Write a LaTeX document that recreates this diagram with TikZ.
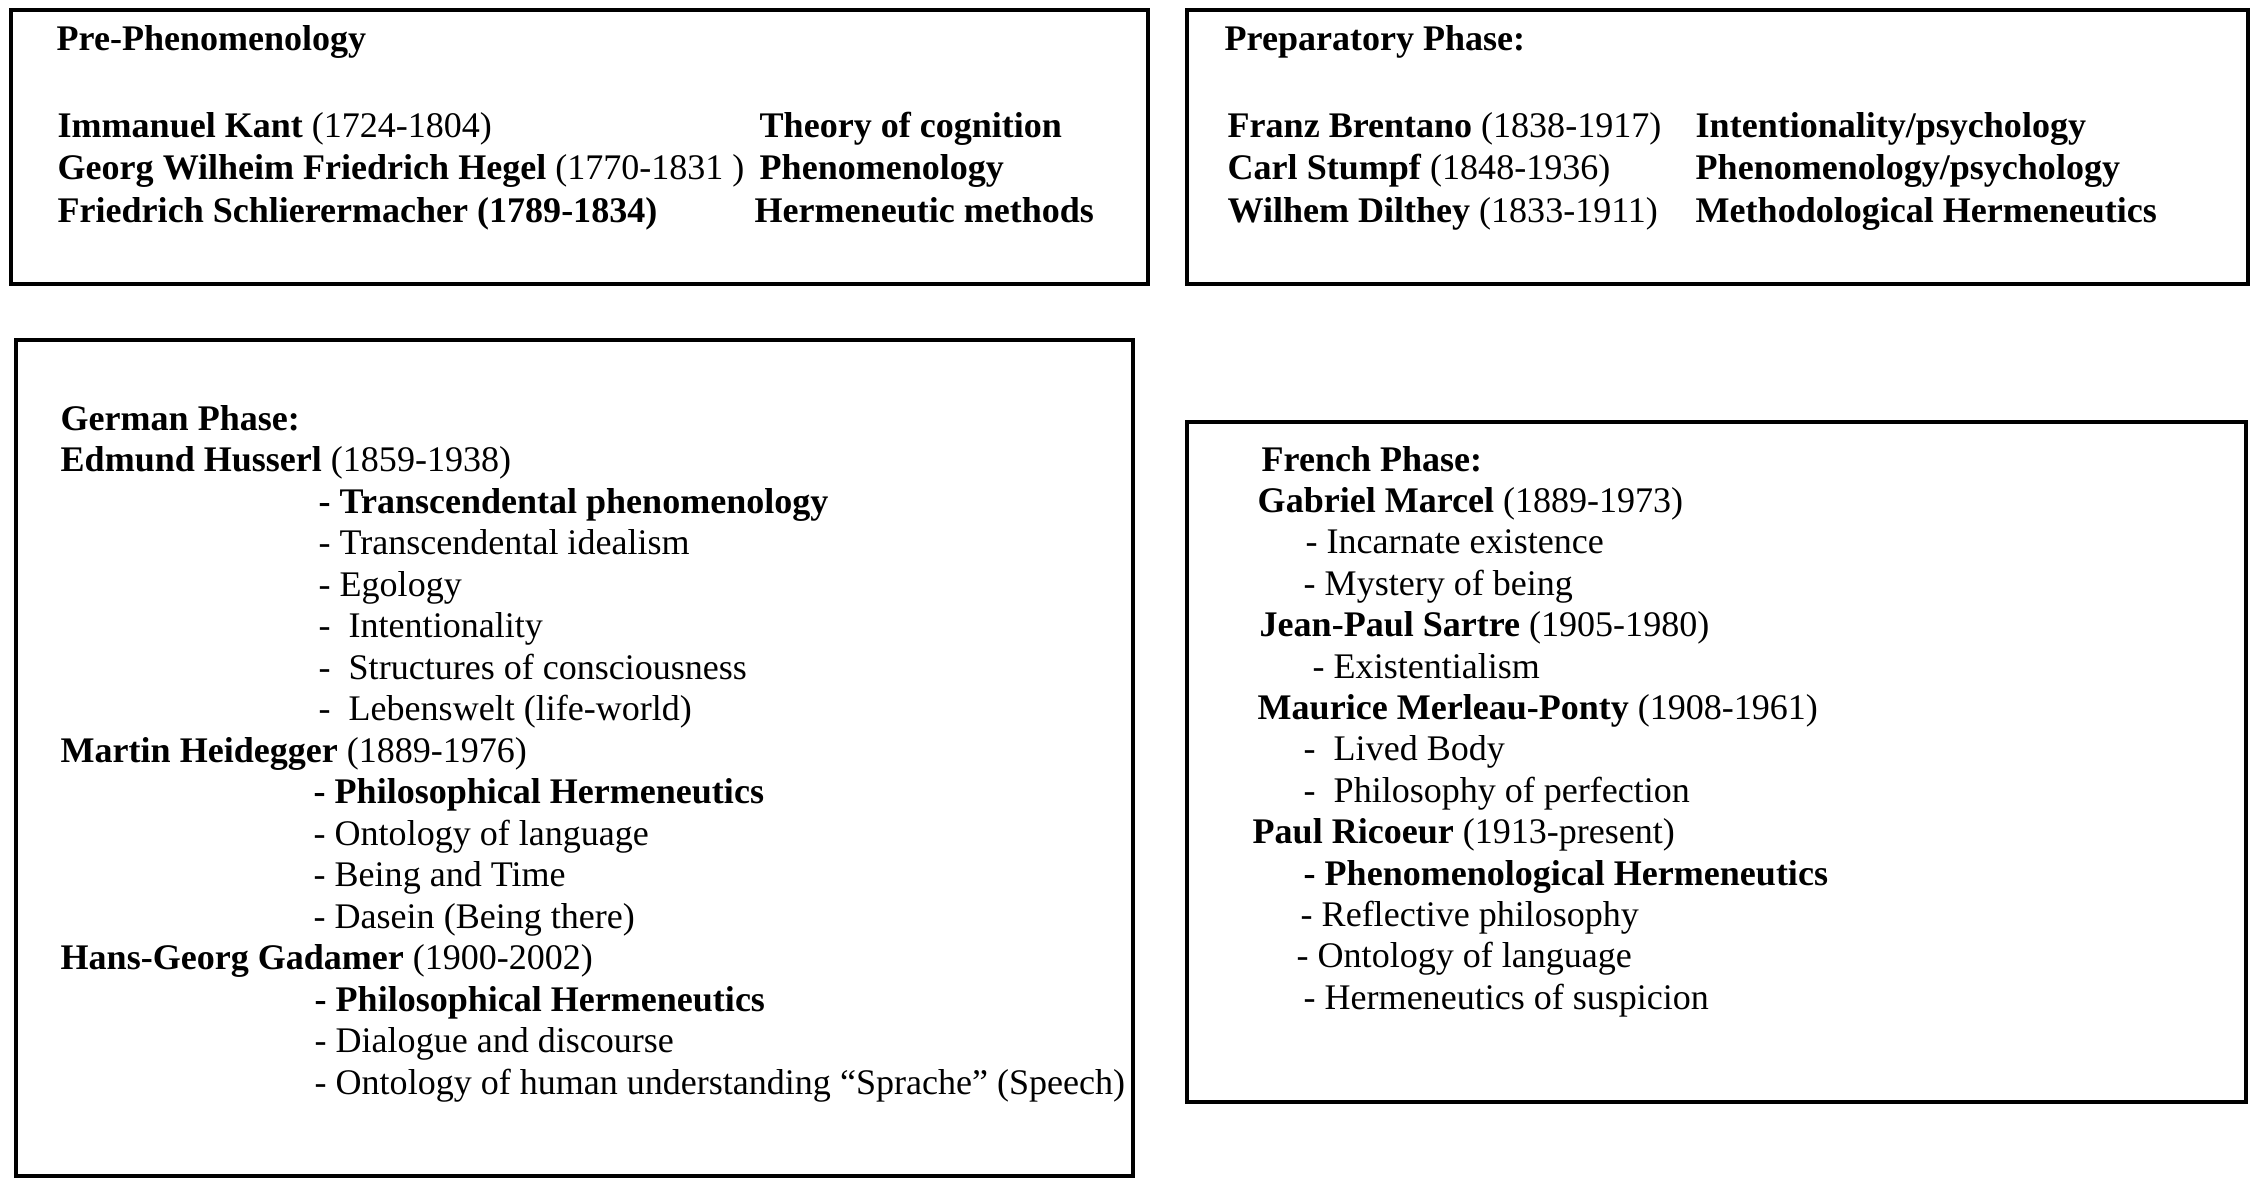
\documentclass[tikz,border=0pt]{standalone}
\usepackage{fontspec}
\setmainfont{Liberation Serif}
\begin{document}
\begin{tikzpicture}[x=0.1mm,y=-0.1mm,
  every node/.style={inner sep=0pt,anchor=base west,font=\fontsize{10.25}{12}\selectfont},
  phasebox/.style={draw,line width=1.1pt}]
\useasboundingbox (0,0) rectangle (2253,1179);
\draw[phasebox] (11,10) rectangle (1148,284);
\draw[phasebox] (1187,10) rectangle (2248,284);
\draw[phasebox] (16,340) rectangle (1133,1176);
\draw[phasebox] (1187,422) rectangle (2246,1102);
% pre-phenomenology
\node (pre) at (56,50) {\textbf{Pre-Phenomenology}};
\foreach \who/\x/\what [count=\i from 0] in {
  {\textbf{Immanuel Kant} (1724-1804)}/759/{Theory of cognition},
  {\textbf{Georg Wilheim Friedrich Hegel} (1770-1831 )}/759/{Phenomenology},
  {\textbf{Friedrich Schlierermacher (1789-1834)}}/754/{Hermeneutic methods}}
  {\node (pre-\i) at (57,{137+42.5*\i}) {\who};
   \node (pre-\i-b) at (\x,{137+42.5*\i}) {\textbf{\what}};}
% preparatory phase
\node (prep) at (1224,50) {\textbf{Preparatory Phase:}};
\foreach \who/\what [count=\i from 0] in {
  {\textbf{Franz Brentano} (1838-1917)}/{Intentionality/psychology},
  {\textbf{Carl Stumpf} (1848-1936)}/{Phenomenology/psychology},
  {\textbf{Wilhem Dilthey} (1833-1911)}/{Methodological Hermeneutics}}
  {\node (prep-\i) at (1227,{137+42.5*\i}) {\who};
   \node (prep-\i-b) at (1695,{137+42.5*\i}) {\textbf{\what}};}
% german phase
\foreach \x/\txt [count=\i from 0] in {
  60/{\textbf{German Phase:}},
  60/{\textbf{Edmund Husserl} (1859-1938)},
  318/{\textbf{- Transcendental phenomenology}},
  318/{- Transcendental idealism},
  318/{- Egology},
  318/{-\ \ Intentionality},
  318/{-\ \ Structures of consciousness},
  318/{-\ \ Lebenswelt (life-world)},
  60/{\textbf{Martin Heidegger} (1889-1976)},
  313/{\textbf{- Philosophical Hermeneutics}},
  313/{- Ontology of language},
  313/{- Being and Time},
  313/{- Dasein (Being there)},
  60/{\textbf{Hans-Georg Gadamer} (1900-2002)},
  314/{\textbf{- Philosophical Hermeneutics}},
  314/{- Dialogue and discourse},
  314/{- Ontology of human understanding “Sprache” (Speech)}}
  \node (ger-\i) at (\x,{430+41.5*\i}) {\txt};
% french phase
\foreach \x/\txt [count=\i from 0] in {
  1261/{\textbf{French Phase:}},
  1257/{\textbf{Gabriel Marcel} (1889-1973)},
  1305/{- Incarnate existence},
  1303/{- Mystery of being},
  1259/{\textbf{Jean-Paul Sartre} (1905-1980)},
  1312/{- Existentialism},
  1257/{\textbf{Maurice Merleau-Ponty} (1908-1961)},
  1303/{-\ \ Lived Body},
  1303/{-\ \ Philosophy of perfection},
  1252/{\textbf{Paul Ricoeur} (1913-present)},
  1303/{\textbf{- Phenomenological Hermeneutics}},
  1300/{- Reflective philosophy},
  1296/{- Ontology of language},
  1303/{- Hermeneutics of suspicion}}
  \node (fr-\i) at (\x,{471+41.4*\i}) {\txt};
\end{tikzpicture}
\end{document}
